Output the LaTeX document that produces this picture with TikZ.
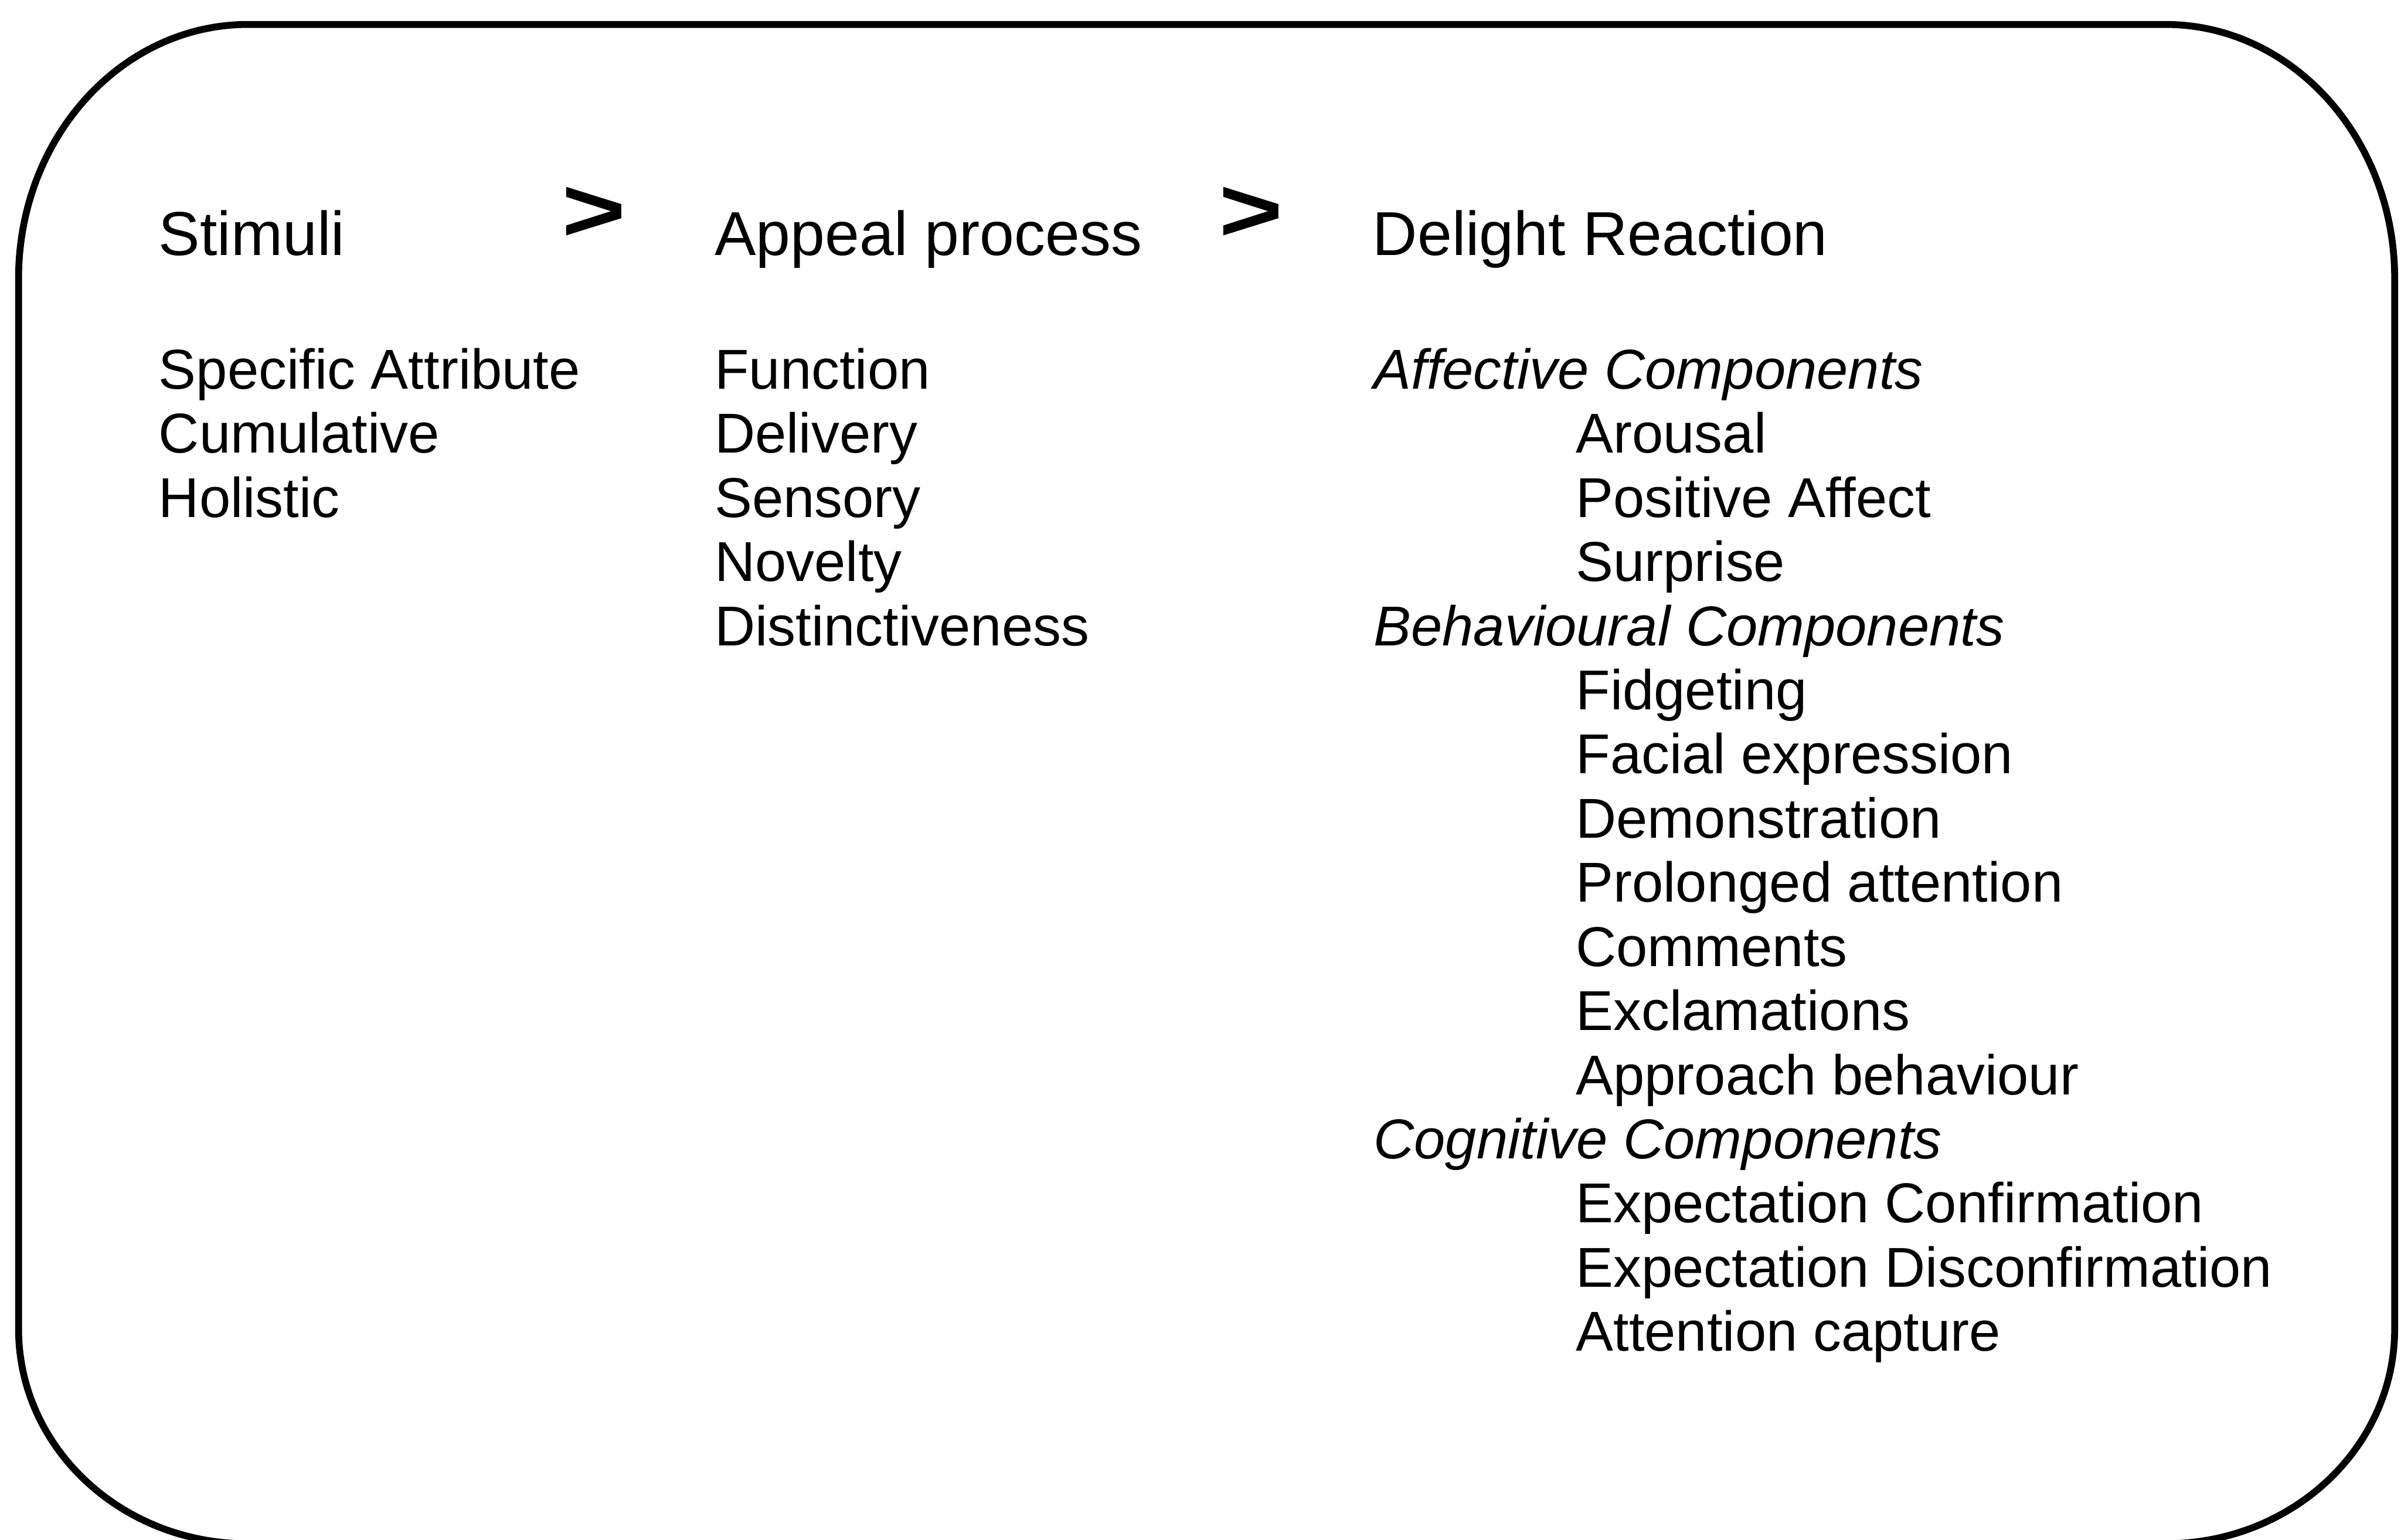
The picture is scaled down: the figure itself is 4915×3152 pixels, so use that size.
\documentclass[tikz,border=0pt]{standalone}
\usepackage{fontspec}
\setmainfont{Liberation Sans}
\begin{document}
\begin{tikzpicture}[x=0.01cm,y=-0.01cm,
  every node/.style={inner sep=0pt,outer sep=0pt,anchor=base west},
  head/.style={font=\fontsize{36.1}{40}\selectfont},
  item/.style={font=\fontsize{32.7}{37}\selectfont},
  group/.style={font=\fontsize{32.7}{37}\selectfont\itshape},
  chevron/.style={font=\fontsize{64}{70}\selectfont\bfseries},
  frame/.style={draw=black,line width=4pt}]
\useasboundingbox (0,0) rectangle (4915,3152);
\clip (0,0) rectangle (4915,3152);

% rounded outer frame (bottom edge runs just below the page)
\path[frame] (508,50) -- (4432,50)
  .. controls (4692,50) and (4902,283) .. (4902,570)
  -- (4902,2720)
  .. controls (4902,2963) and (4692,3160) .. (4432,3160)
  -- (508,3160)
  .. controls (248,3160) and (38,2963) .. (38,2720)
  -- (38,570)
  .. controls (38,283) and (248,50) .. (508,50) -- cycle;

% column headings and the separators between them
\node[head] (stimuli) at (325,523) {Stimuli};
\node[chevron] (gt1) at (1150,494) {\scalebox{1}[0.82]{>}};
\node[head] (appeal) at (1463,523) {Appeal process};
\node[chevron] (gt2) at (2495,494) {\scalebox{1}[0.82]{>}};
\node[head] (delight) at (2810,523) {Delight Reaction};

% stimuli
\node[item] (s1) at (325,796.0) {Specific Attribute};
\node[item] (s2) at (325,927.3) {Cumulative};
\node[item] (s3) at (325,1058.6) {Holistic};

% appeal process
\node[item] (a1) at (1463,796.0) {Function};
\node[item] (a2) at (1463,927.3) {Delivery};
\node[item] (a3) at (1463,1058.6) {Sensory};
\node[item] (a4) at (1463,1189.9) {Novelty};
\node[item] (a5) at (1463,1321.2) {Distinctiveness};

% delight reaction
\node[group] (affective) at (2812,796.0) {Affective Components};
\node[item] (r1) at (3226,927.3) {Arousal};
\node[item] (r2) at (3226,1058.6) {Positive Affect};
\node[item] (r3) at (3226,1189.9) {Surprise};
\node[group] (behavioural) at (2812,1321.2) {Behavioural Components};
\node[item] (r4) at (3226,1452.5) {Fidgeting};
\node[item] (r5) at (3226,1583.8) {Facial expression};
\node[item] (r6) at (3226,1715.1) {Demonstration};
\node[item] (r7) at (3226,1846.4) {Prolonged attention};
\node[item] (r8) at (3226,1977.7) {Comments};
\node[item] (r9) at (3226,2109.0) {Exclamations};
\node[item] (r10) at (3226,2240.3) {Approach behaviour};
\node[group] (cognitive) at (2812,2371.6) {Cognitive Components};
\node[item] (r11) at (3226,2502.9) {Expectation Confirmation};
\node[item] (r12) at (3226,2634.2) {Expectation Disconfirmation};
\node[item] (r13) at (3226,2765.5) {Attention capture};
\end{tikzpicture}
\end{document}
